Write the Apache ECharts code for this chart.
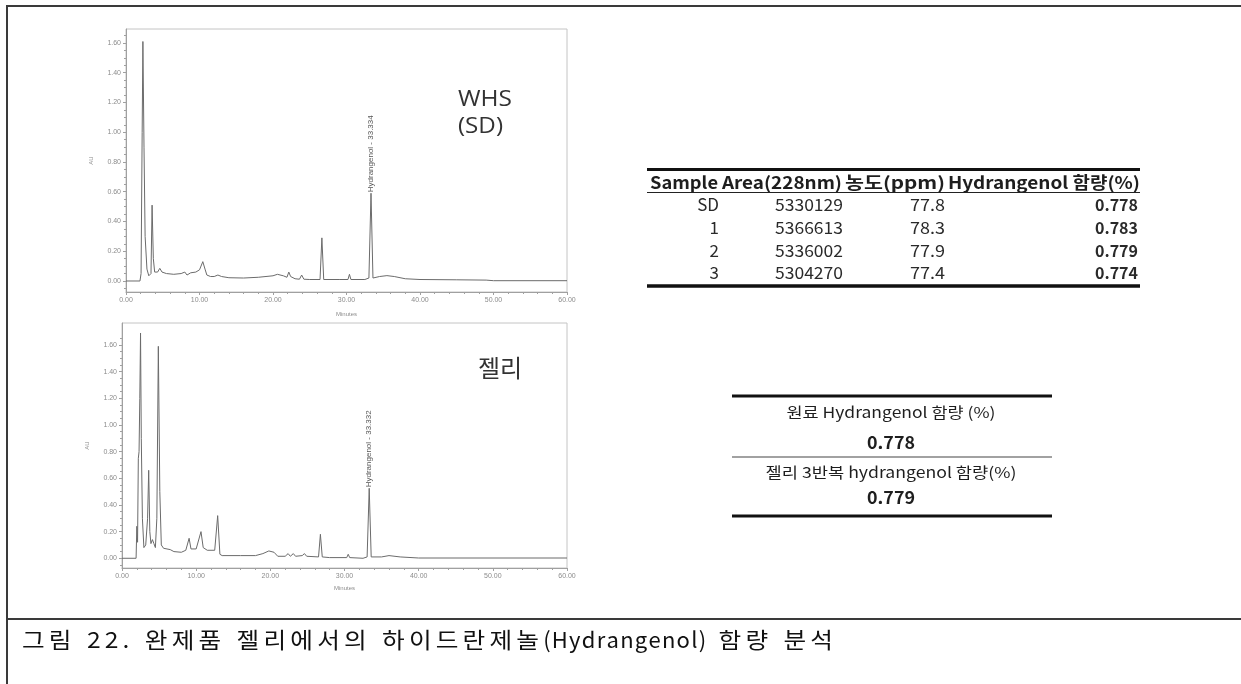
<!DOCTYPE html>
<html>
<head>
<meta charset="utf-8">
<script src="https://cdn.jsdelivr.net/npm/echarts@6/dist/echarts.min.js"></script>
<style>
  html, body { margin: 0; padding: 0; background: #fff; }
  #chart { width: 1241px; height: 684px; }
</style>
</head>
<body>
<div id="chart"></div>
<script>
// HPLC chromatogram of the WHS standard (SD): retention time (min) / absorbance (AU)
const whsTime = [0, 1.9, 2.05, 2.2, 2.3, 2.45, 2.6, 2.85, 3.1, 3.4, 3.55, 3.72, 3.9, 4.3, 4.6, 4.9, 5.5, 6.5, 7.5, 8.0, 8.3, 8.8, 9.5, 10.0, 10.45, 10.75, 11.0, 11.5, 12.0, 12.5, 13.0, 14, 16, 18, 20, 20.6, 21.4, 21.9, 22.15, 22.4, 23.0, 23.6, 23.9, 24.2, 25, 26.4, 26.65, 26.9, 29, 30.2, 30.4, 30.6, 32.5, 33.05, 33.334, 33.6, 34.5, 35.5, 36.5, 38, 40, 45, 49, 50, 60];
const whsAU   = [0, 0, 0.05, 1.0, 1.61, 0.9, 0.3, 0.08, 0.035, 0.05, 0.51, 0.15, 0.06, 0.06, 0.085, 0.06, 0.05, 0.045, 0.05, 0.06, 0.04, 0.055, 0.06, 0.075, 0.13, 0.08, 0.04, 0.03, 0.03, 0.04, 0.03, 0.022, 0.02, 0.025, 0.035, 0.045, 0.035, 0.025, 0.06, 0.03, 0.015, 0.012, 0.04, 0.012, 0.01, 0.01, 0.29, 0.01, 0.01, 0.01, 0.045, 0.01, 0.01, 0.02, 0.59, 0.02, 0.03, 0.036, 0.03, 0.015, 0.01, 0.008, 0.006, 0.002, 0.002];

// HPLC chromatogram of the finished jelly product
const jellyTime = [0, 1.9, 2.0, 2.1, 2.2, 2.3, 2.4, 2.5, 2.6, 2.75, 2.95, 3.2, 3.45, 3.6, 3.75, 3.9, 4.1, 4.3, 4.5, 4.7, 4.9, 5.1, 5.3, 5.6, 6.5, 7.0, 8.0, 8.6, 9.05, 9.3, 10.0, 10.65, 10.95, 11.5, 12.5, 12.9, 13.2, 13.5, 16, 18, 19, 19.8, 20.5, 21.0, 22.0, 22.4, 22.7, 23.1, 23.4, 24.3, 24.6, 24.9, 26.5, 26.75, 27.0, 28, 30.3, 30.5, 30.7, 32.5, 33.05, 33.332, 33.6, 35, 36, 37.5, 40, 60];
const jellyAU   = [0, 0, 0.24, 0.12, 0.75, 0.8, 1.2, 1.69, 0.9, 0.3, 0.08, 0.1, 0.3, 0.66, 0.2, 0.11, 0.14, 0.11, 0.08, 0.3, 1.59, 0.5, 0.1, 0.075, 0.065, 0.05, 0.045, 0.06, 0.15, 0.07, 0.07, 0.2, 0.08, 0.06, 0.06, 0.32, 0.03, 0.02, 0.02, 0.02, 0.035, 0.055, 0.045, 0.015, 0.015, 0.035, 0.015, 0.035, 0.015, 0.02, 0.035, 0.015, 0.01, 0.18, 0.01, 0.005, 0.005, 0.03, 0.005, 0.0, 0.01, 0.525, 0.01, 0.01, 0.02, 0.01, 0.002, 0.002];

// named peaks (retention time of the hydrangenol peak in each run)
const peakNames = ['Hydrangenol - 33.334', 'Hydrangenol - 33.332'];
const peakTimes = [33.334, 33.332];

// axis ticks
const xTicks = [0, 10, 20, 30, 40, 50, 60];
const yTicks = [0, 0.2, 0.4, 0.6, 0.8, 1.0, 1.2, 1.4, 1.6];
const yMinorTicks = [-0.05, 0.05, 0.1, 0.15, 0.25, 0.3, 0.35, 0.45, 0.5, 0.55, 0.65, 0.7, 0.75, 0.85, 0.9, 0.95, 1.05, 1.1, 1.15, 1.25, 1.3, 1.35, 1.45, 1.5, 1.55, 1.65];

// quantification table
const tableHeader = ['Sample', 'Area(228nm)', '농도(ppm)', 'Hydrangenol 함량(%)'];
const sampleNames = ['SD', '1', '2', '3'];
const sampleAreas = ['5330129', '5366613', '5336002', '5304270'];
const sampleConc = ['77.8', '78.3', '77.9', '77.4'];
const sampleContent = ['0.778', '0.783', '0.779', '0.774'];

// summary table
const summaryLabels = ['원료 Hydrangenol 함량 (%)', '젤리 3반복 hydrangenol 함량(%)'];
const summaryValues = ['0.778', '0.779'];

const captionText = '그림 22. 완제품 젤리에서의 하이드란제놀(Hydrangenol) 함량 분석';

// ---------------------------------------------------------------------------
const chart = echarts.init(document.getElementById('chart'));

const traceColor = '#6b6b6b';
const axisColor = '#a0a0a0';
const tickFont = { fontSize: 7, color: '#8c8c8c', fontFamily: 'Liberation Sans, Arial, sans-serif' };
const KR = '"Noto Sans CJK KR", "Noto Sans", sans-serif';

function pairs(ts, vs) { return ts.map((t, i) => [t, vs[i]]); }

const grids = [
  { left: 126, top: 29, width: 441, height: 263, yMin: -0.074, yMax: 1.694 },
  { left: 122, top: 323, width: 445, height: 245, yMin: -0.073, yMax: 1.765 }
];

const xAxes = [], yAxes = [], series = [];
grids.forEach((g, i) => {
  xAxes.push({
    type: 'value', gridIndex: i, min: 0, max: 60, interval: 10,
    axisLine: { show: true, onZero: false, lineStyle: { color: axisColor, width: 1 } },
    axisTick: { show: true, length: 3, lineStyle: { color: axisColor } },
    minorTick: { show: true, splitNumber: 5, length: 2, lineStyle: { color: axisColor } },
    axisLabel: Object.assign({ customValues: xTicks, margin: 5, formatter: v => v.toFixed(2) }, tickFont),
    splitLine: { show: false },
    name: 'Minutes', nameLocation: 'middle', nameGap: i === 0 ? 19 : 17,
    nameTextStyle: { fontSize: 6, color: '#8c8c8c', fontFamily: 'Liberation Sans, Arial, sans-serif' }
  });
  yAxes.push({
    type: 'value', gridIndex: i, min: g.yMin, max: g.yMax, position: 'left',
    axisLine: { show: true, onZero: false, lineStyle: { color: axisColor, width: 1 } },
    axisTick: { show: true, customValues: yTicks, length: 3, lineStyle: { color: axisColor } },
    axisLabel: Object.assign({ customValues: yTicks, margin: 5, formatter: v => v.toFixed(2) }, tickFont),
    splitLine: { show: false },
    name: 'AU', nameLocation: 'middle', nameRotate: 90, nameGap: 32,
    nameTextStyle: { fontSize: 6, color: '#8c8c8c', fontFamily: 'Liberation Sans, Arial, sans-serif' }
  });
  // minor ticks on the AU axis
  yAxes.push({
    type: 'value', gridIndex: i, min: g.yMin, max: g.yMax, position: 'left',
    axisLine: { show: false },
    axisTick: { show: true, customValues: yMinorTicks, length: 2, lineStyle: { color: axisColor } },
    axisLabel: { show: false },
    splitLine: { show: false }
  });
});

const traces = [pairs(whsTime, whsAU), pairs(jellyTime, jellyAU)];
const peakAU = [whsAU[whsTime.indexOf(peakTimes[0])], jellyAU[jellyTime.indexOf(peakTimes[1])]];

traces.forEach((data, i) => {
  series.push({
    type: 'line', xAxisIndex: i, yAxisIndex: i * 2, data: data,
    showSymbol: false, silent: true, animation: false,
    lineStyle: { color: traceColor, width: 1 },
    markPoint: {
      symbol: 'circle', symbolSize: 0, animation: false, silent: true,
      data: [{ coord: [peakTimes[i], peakAU[i]] }],
      label: {
        show: true, position: 'top', distance: 1, rotate: 90,
        align: 'left', verticalAlign: 'middle',
        formatter: peakNames[i], fontSize: 8, color: '#555',
        fontFamily: 'Liberation Sans, Arial, sans-serif'
      }
    }
  });
});

// ---------------------------------------------------------------------------
// page decoration, tables and caption
const graphics = [];
const frame = '#3a3a3a';
const measureCtx = document.createElement('canvas').getContext('2d');
function measure(str, font) { measureCtx.font = font; return measureCtx.measureText(str).width; }

function hline(x1, x2, y, w, c) {
  graphics.push({ type: 'line', silent: true, shape: { x1: x1, y1: y, x2: x2, y2: y }, style: { stroke: c || '#111', lineWidth: w } });
}
function vline(x, y1, y2, w, c) {
  graphics.push({ type: 'line', silent: true, shape: { x1: x, y1: y1, x2: x, y2: y2 }, style: { stroke: c || '#111', lineWidth: w } });
}
function text(str, x, y, font, opts, scaleX) {
  graphics.push({
    type: 'text', silent: true, x: x, y: y, scaleX: scaleX || 1,
    style: Object.assign({ text: str, font: font, fill: '#1e1e1e', textAlign: 'left', textVerticalAlign: 'middle' }, opts || {})
  });
}
// text stretched horizontally to a given width
function fitText(str, x, y, font, width, opts) {
  text(str, x, y, font, opts, width / measure(str, font));
}

// outer frame and caption divider
vline(7, 6, 684, 2, frame);
hline(6, 1241, 6, 2, frame);
hline(6, 1241, 619, 2, frame);

// sample titles on the chromatograms
fitText('WHS', 458, 100, '22px "Open Sans", sans-serif', 54, { fill: '#333' });
fitText('(SD)', 458, 127, '22px "Open Sans", sans-serif', 45, { fill: '#333' });
text('젤리', 478, 368, '24px ' + KR, { fill: '#333' });

// quantification table
const t1 = { x1: 647, x2: 1140, top: 169.5, headY: 183, headLine: 192.5, rowY: [205, 228, 251, 273], bottom: 286 };
hline(t1.x1, t1.x2, t1.top, 3);
const headX = [650, 722, 845, 948];
const headW = [68, 120, 100, 192];
tableHeader.forEach((h, i) => fitText(h, headX[i], t1.headY, 'bold 17px ' + KR, headW[i]));
hline(t1.x1, t1.x2, t1.headLine, 1.2, '#222');
const colRight = [719, 843, 945, 1138];
const colWidth = [null, 68, 35, 43];
const cols = [sampleNames, sampleAreas, sampleConc, sampleContent];
cols.forEach((col, c) => {
  const font = (c === 3 ? 'bold ' : '') + '16px ' + KR;
  col.forEach((v, r) => {
    const opts = { textAlign: 'right', fill: '#2a2a2a' };
    if (colWidth[c]) fitText(v, colRight[c], t1.rowY[r], font, colWidth[c] * measure(v, font) / measure(col[0], font), opts);
    else text(v, colRight[c], t1.rowY[r], '17px ' + KR, opts);
  });
});
hline(t1.x1, t1.x2, t1.bottom, 3.5);

// summary table
const t2 = { x1: 732, x2: 1052, cx: 891, top: 396, mid: 457, bottom: 516 };
hline(t2.x1, t2.x2, t2.top, 3);
fitText(summaryLabels[0], t2.cx, 412, '15px ' + KR, 209, { textAlign: 'center' });
fitText(summaryValues[0], t2.cx, 443, 'bold 17px ' + KR, 48, { textAlign: 'center' });
hline(t2.x1, t2.x2, t2.mid, 1.2, '#444');
fitText(summaryLabels[1], t2.cx, 472, '15px ' + KR, 251, { textAlign: 'center' });
fitText(summaryValues[1], t2.cx, 498, 'bold 17px ' + KR, 48, { textAlign: 'center' });
hline(t2.x1, t2.x2, t2.bottom, 3);

// caption: Hangul and digits set slightly wide, the rest of the line length
// distributed as tracking (lighter on Latin letters)
(function () {
  const font = '22px ' + KR;
  const wide = 1.12;
  const chars = Array.from(captionText);
  const isLatin = chars.map(ch => /[A-Za-z()]/.test(ch));
  const scale = chars.map((ch, i) => (ch === ' ' || isLatin[i]) ? 1 : wide);
  const widths = chars.map((ch, i) => measure(ch, font) * scale[i]);
  const weight = chars.map((ch, i) => ch === ' ' ? 1.5 : (isLatin[i] ? 0.3 : 1));
  const startX = 22, endX = 833;
  const natural = widths.reduce((a, b) => a + b, 0);
  const totalWeight = weight.slice(0, -1).reduce((a, b) => a + b, 0);
  const extra = (endX - startX - natural) / totalWeight;
  let x = startX;
  chars.forEach((ch, i) => {
    if (ch !== ' ') text(ch, x, 640, font, { fill: '#111' }, scale[i]);
    x += widths[i] + weight[i] * extra;
  });
})();

chart.setOption({
  animation: false,
  grid: grids.map(g => ({ left: g.left, top: g.top, width: g.width, height: g.height, show: true, borderColor: '#c4c4c4', borderWidth: 1, backgroundColor: 'transparent' })),
  xAxis: xAxes,
  yAxis: yAxes,
  series: series,
  graphic: { elements: graphics }
});
</script>
</body>
</html>
